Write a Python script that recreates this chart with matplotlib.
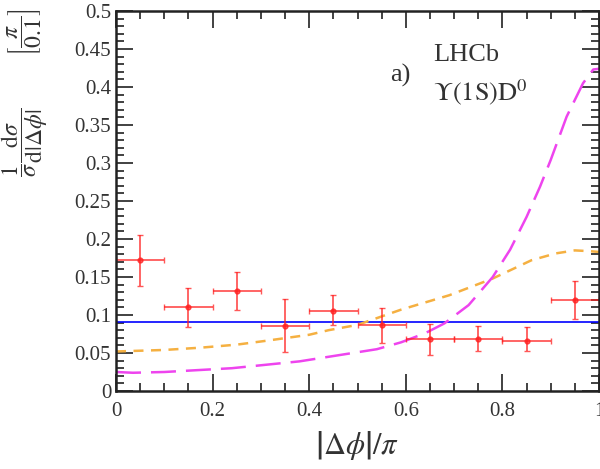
import numpy as np
import matplotlib
matplotlib.use("Agg")
import matplotlib.pyplot as plt
from matplotlib.ticker import MultipleLocator, FuncFormatter

plt.rcParams['font.family'] = ['Liberation Serif', 'DejaVu Serif']
plt.rcParams['mathtext.fontset'] = 'stix'

# datos medidos (centros de bin, valores y errores)
x_centros = [0.05, 0.15, 0.25, 0.35, 0.45, 0.55, 0.65, 0.75, 0.85, 0.95]
y_datos = [0.172, 0.110, 0.131, 0.085, 0.105, 0.087, 0.068, 0.069, 0.066, 0.120]
err_arriba = [0.033, 0.025, 0.026, 0.036, 0.021, 0.022, 0.020, 0.016, 0.018, 0.025]
err_abajo = [0.034, 0.026, 0.024, 0.034, 0.018, 0.024, 0.021, 0.016, 0.014, 0.025]

# prediccion uniforme
y_uniforme = 0.091

# curva naranja
x_naranja = [0.0, 0.1, 0.175, 0.25, 0.31, 0.4, 0.44, 0.5, 0.59, 0.69, 0.78, 0.86, 0.91, 0.95, 0.98, 1.0]
y_naranja = [0.052, 0.054, 0.057, 0.061, 0.066, 0.074, 0.080, 0.087, 0.107, 0.126, 0.148, 0.172, 0.181, 0.185, 0.184, 0.183]

# curva magenta
x_magenta = [0.0, 0.035, 0.1, 0.24, 0.38, 0.44, 0.48, 0.54, 0.59, 0.64, 0.68, 0.73, 0.78, 0.816, 0.85, 0.878,
             0.90, 0.933, 0.967, 0.988, 1.0]
y_magenta = [0.025, 0.024, 0.025, 0.030, 0.039, 0.045, 0.049, 0.055, 0.064, 0.076, 0.089, 0.113, 0.150, 0.186,
             0.229, 0.269, 0.304, 0.361, 0.405, 0.423, 0.424]

fig = plt.figure(figsize=(6.0, 4.69), dpi=100)
ax = fig.add_axes([116/600, 1 - 391/469, 483/600, 380/469])

ax.axhline(y_uniforme, color='blue', lw=1.2)
ax.plot(x_naranja, y_naranja, color='#f5b041', lw=1.8, dashes=(4, 3))
ax.plot(x_magenta, y_magenta, color='#ee44ee', lw=1.8, dashes=(10, 4))

xerr = [0.05] * len(x_centros)
ax.errorbar(x_centros, y_datos, xerr=xerr, yerr=[err_abajo, err_arriba],
            fmt='o', color='#ff2020', ms=3.5, lw=1.3, capsize=2.5, alpha=0.75)

ax.set_xlim(0, 1)
ax.set_ylim(0, 0.5)
ax.xaxis.set_major_locator(MultipleLocator(0.2))
ax.xaxis.set_minor_locator(MultipleLocator(0.05))
ax.yaxis.set_major_locator(MultipleLocator(0.05))
ax.yaxis.set_minor_locator(MultipleLocator(0.01))
formato = FuncFormatter(lambda v, pos: ('%.2f' % v).rstrip('0').rstrip('.') if abs(v) > 1e-9 else '0')
ax.xaxis.set_major_formatter(formato)
ax.yaxis.set_major_formatter(formato)
ax.tick_params(which='both', direction='in', top=True, right=True, labelsize=15, width=1.3, colors='#333333')
ax.tick_params(which='major', length=12)
ax.tick_params(which='minor', length=6)
ax.tick_params(axis='x', pad=8)
for lado in ax.spines.values():
    lado.set_linewidth(1.8)
    lado.set_color('#222222')

ax.set_xlabel(r'$\left|\Delta\phi\right|/\pi$', fontsize=22, color='#333333', labelpad=6)
fig.text(25/600, 1 - 142/469,
         r'$\dfrac{1}{\sigma}\dfrac{\mathrm{d}\sigma}{\mathrm{d}|\Delta\phi|}$',
         rotation=90, fontsize=17, ha='center', va='center', color='#333333')
fig.text(25/600, 1 - 32/469, r'$\left[\dfrac{\pi}{0.1}\right]$',
         rotation=90, fontsize=17, ha='center', va='center', color='#333333')

ax.text(390/600, 1 - 75/469, 'a)', transform=fig.transFigure, fontsize=19, color='#333333', va='center')
ax.text(433/600, 1 - 55/469, 'LHCb', transform=fig.transFigure, fontsize=19, color='#333333', va='center')
ax.text(433/600, 1 - 92/469, r'$\Upsilon\mathrm{(1S)D}^0$', transform=fig.transFigure, fontsize=19, color='#333333', va='center')

fig.savefig('out.png', dpi=100)
